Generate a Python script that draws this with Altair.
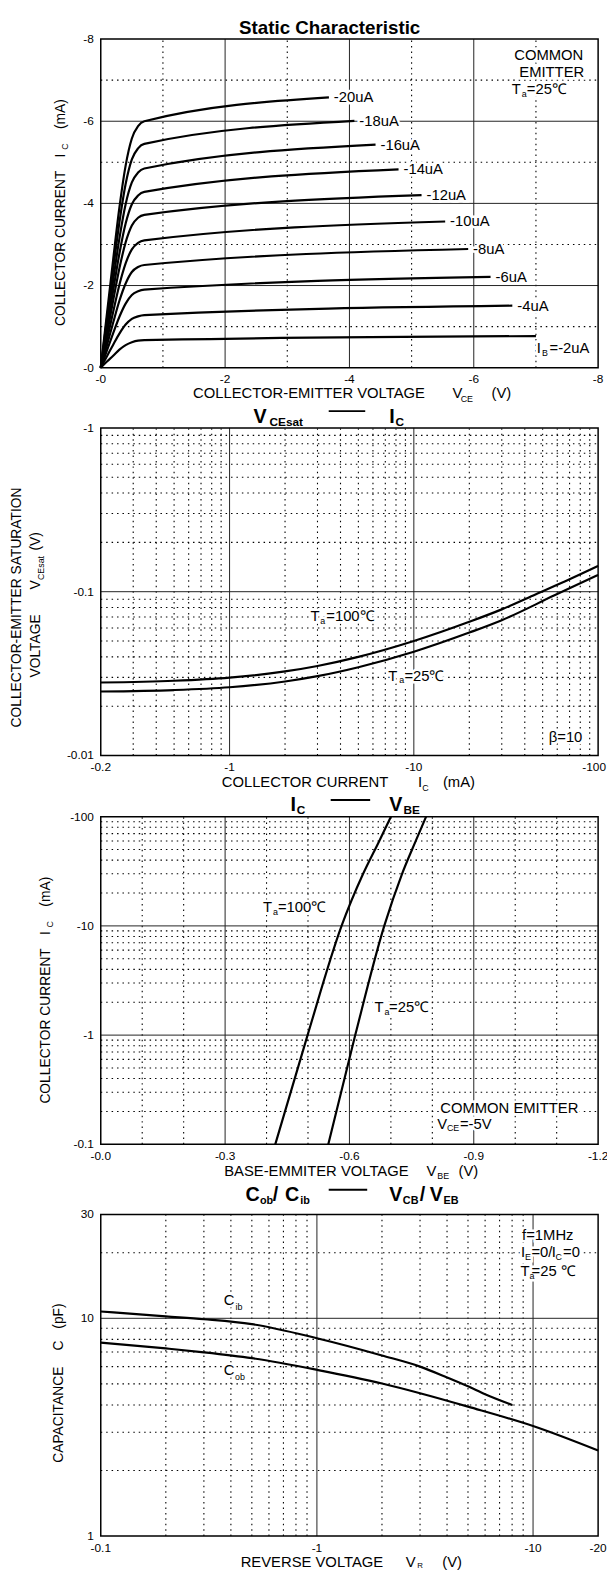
import altair as alt
import pandas as pd

FONT = "Liberation Sans"
CW, CH = 607, 1572          # whole drawing, kept inside the 615x1596 window
L, R = 94, 598              # left / right edge of every plot frame
P1, P2, P3, P4 = (21, 354), (415, 747), (809, 1141), (1212, 1538)   # (top, bottom) of each frame

# ---------------- Panel 1 : static characteristic ----------------
ib_names = ["-20uA", "-18uA", "-16uA", "-14uA", "-12uA", "-10uA", "-8uA", "-6uA", "-4uA", "-2uA"]
vce_rise = [0, -0.1, -0.2, -0.3, -0.4, -0.5, -0.6, -0.7]
ic_rise = [
    [0, -1.32, -2.64, -3.90, -4.92, -5.58, -5.88, -6.00],
    [0, -1.20, -2.40, -3.54, -4.47, -5.07, -5.34, -5.45],
    [0, -1.07, -2.13, -3.15, -3.98, -4.51, -4.75, -4.85],
    [0, -0.94, -1.88, -2.78, -3.51, -3.98, -4.19, -4.28],
    [0, -0.82, -1.64, -2.42, -3.05, -3.46, -3.65, -3.72],
    [0, -0.68, -1.36, -2.02, -2.54, -2.88, -3.04, -3.10],
    [0, -0.55, -1.10, -1.63, -2.05, -2.33, -2.45, -2.50],
    [0, -0.42, -0.84, -1.24, -1.56, -1.77, -1.86, -1.90],
    [0, -0.28, -0.56, -0.83, -1.05, -1.19, -1.25, -1.28],
    [0, -0.15, -0.29, -0.44, -0.55, -0.62, -0.66, -0.67],
]
vce_end = [-3.67, -4.08, -4.42, -4.79, -5.16, -5.54, -5.91, -6.27, -6.62, -7.00]
ic_end = [-6.58, -6.01, -5.43, -4.83, -4.20, -3.56, -2.89, -2.21, -1.51, -0.77]
p1_ticks = [0, -2, -4, -6, -8]
p1_tick_labels = ["-0", "-2", "-4", "-6", "-8"]
p1_major = [-2, -4, -6]
p1_minor = [-1, -3, -5, -7]

# ---------------- Panel 2 : VCEsat - IC ----------------
p2_ic_100 = [-0.2, -0.5, -1, -2, -3, -5, -10, -20, -30, -46, -70, -100]
p2_v_100 = [-0.0279, -0.0286, -0.0299, -0.0326, -0.0352, -0.0400, -0.0500, -0.0655, -0.0780, -0.0965, -0.119, -0.1435]
p2_ic_25 = [-0.2, -0.5, -1, -2, -3, -5, -10, -20, -30, -58, -100]
p2_v_25 = [-0.0246, -0.0251, -0.0261, -0.0283, -0.0305, -0.0346, -0.0430, -0.0563, -0.0670, -0.0950, -0.1265]
p2_xticks = [-0.2, -1, -10, -100]
p2_x_labels = ["-0.2", "-1", "-10", "-100"]
p2_yticks = [-0.01, -0.1, -1]
p2_y_labels = ["-0.01", "-0.1", "-1"]
p2_x_major = [-1, -10]
p2_x_minor = [-0.3, -0.4, -0.5, -0.6, -0.7, -0.8, -0.9, -2, -3, -4, -5, -6, -7, -8, -9,
              -20, -30, -40, -50, -60, -70, -80, -90]
p2_y_major = [-0.1]
p2_y_minor = [-0.02, -0.03, -0.04, -0.05, -0.06, -0.07, -0.08, -0.09,
              -0.2, -0.3, -0.4, -0.5, -0.6, -0.7, -0.8, -0.9]

# ---------------- Panel 3 : IC - VBE ----------------
p3_ic = [-0.1, -1, -10, -30, -60, -100]
p3_vbe_100 = [-0.421, -0.499, -0.581, -0.633, -0.672, -0.700]
p3_vbe_25 = [-0.549, -0.614, -0.684, -0.727, -0.760, -0.785]
p3_xticks = [0, -0.3, -0.6, -0.9, -1.2]
p3_x_labels = ["-0.0", "-0.3", "-0.6", "-0.9", "-1.2"]
p3_yticks = [-0.1, -1, -10, -100]
p3_y_labels = ["-0.1", "-1", "-10", "-100"]
p3_x_major = [-0.3, -0.6, -0.9]
p3_x_minor = [-0.1, -0.2, -0.4, -0.5, -0.7, -0.8, -1.0, -1.1]
p3_y_major = [-1, -10]
p3_y_minor = [-0.2, -0.3, -0.4, -0.5, -0.6, -0.7, -0.8, -0.9,
              -2, -3, -4, -5, -6, -7, -8, -9,
              -20, -30, -40, -50, -60, -70, -80, -90]

# ---------------- Panel 4 : Cob/Cib - VCB/VEB ----------------
p4_v_cib = [-0.1, -0.2, -0.3, -0.5, -1, -2, -3, -4, -5, -6, -8]
p4_cib = [10.75, 10.2, 9.9, 9.4, 8.1, 6.75, 6.0, 5.35, 4.87, 4.48, 4.0]
p4_v_cob = [-0.1, -0.2, -0.3, -0.5, -1, -2, -3, -5, -10, -20]
p4_cob = [7.73, 7.27, 6.98, 6.56, 5.8, 5.02, 4.53, 3.93, 3.2, 2.47]
p4_xticks = [-0.1, -1, -10, -20]
p4_x_labels = ["-0.1", "-1", "-10", "-20"]
p4_yticks = [1, 10, 30]
p4_y_labels = ["1", "10", "30"]
p4_x_major = [-1, -10]
p4_x_minor = [-0.2, -0.3, -0.4, -0.5, -0.6, -0.7, -0.8, -0.9, -2, -3, -4, -5, -6, -7, -8, -9]
p4_y_major = [10]
p4_y_minor = [2, 3, 4, 5, 6, 7, 8, 9, 20]


# ---------------- helpers ----------------
def X(f, s):
    return alt.X(f, scale=s, axis=None)


def Y(f, s):
    return alt.Y(f, scale=s, axis=None)


def frame_layers(xs, ys, xdom, ydom, xmaj, xmin, ymaj, ymin):
    dot = dict(color="black", strokeWidth=1.1, strokeDash=[1.5, 4])
    sol = dict(color="#222", strokeWidth=1)
    out = []
    for vals, st in ((xmin, dot), (xmaj, sol)):
        d = pd.DataFrame({"g": vals}).assign(lo=ydom[0], hi=ydom[1])
        out.append(alt.Chart(d).mark_rule(**st).encode(x=X("g:Q", xs), y=Y("lo:Q", ys), y2="hi:Q"))
    for vals, st in ((ymin, dot), (ymaj, sol)):
        d = pd.DataFrame({"g": vals}).assign(lo=xdom[0], hi=xdom[1])
        out.append(alt.Chart(d).mark_rule(**st).encode(y=Y("g:Q", ys), x=X("lo:Q", xs), x2="hi:Q"))
    return out


def box(xs, ys, xdom, ydom):
    d = pd.DataFrame({"a": [xdom[0]], "b": [xdom[1]], "c": [ydom[0]], "e": [ydom[1]]})
    return alt.Chart(d).mark_rect(fillOpacity=0, stroke="black", strokeWidth=1.5).encode(
        x=X("a:Q", xs), x2="b:Q", y=Y("c:Q", ys), y2="e:Q")


def tick_labels(xs, ys, xt, xl, yt, yl, bottom, gap=12, last_dx=0):
    dxa = pd.DataFrame({"v": xt[:-1], "t": xl[:-1]})
    dxb = pd.DataFrame({"v": xt[-1:], "t": xl[-1:]})
    dy = pd.DataFrame({"v": yt, "t": yl})
    kw = dict(font=FONT, fontSize=12, color="black", baseline="middle")
    return [
        alt.Chart(dxa).mark_text(align="center", **kw).encode(x=X("v:Q", xs), y=alt.value(bottom + gap), text="t:N"),
        alt.Chart(dxb).mark_text(align="center", dx=last_dx, **kw).encode(
            x=X("v:Q", xs), y=alt.value(bottom + gap), text="t:N"),
        alt.Chart(dy).mark_text(align="right", **kw).encode(x=alt.value(L - 7), y=Y("v:Q", ys), text="t:N"),
    ]


def curves(pairs, xs, ys):
    rows = []
    for name, xv, yv in pairs:
        for i, (a, b) in enumerate(zip(xv, yv)):
            rows.append({"curve": name, "i": i, "x": a, "y": b})
    return alt.Chart(pd.DataFrame(rows)).mark_line(color="black", strokeWidth=2.2, interpolate="monotone").encode(
        x=X("x:Q", xs), y=Y("y:Q", ys), detail="curve:N", order="i:Q")


def txt(rows, angle=0, weight="normal", halo=False):
    df = pd.DataFrame(rows, columns=["t", "px", "py", "s"])
    style = dict(color="white", stroke="white", strokeWidth=5) if halo else dict(color="black")
    return alt.Chart(df).mark_text(font=FONT, fontWeight=weight, align="center", baseline="middle",
                                   angle=angle, **style).encode(
        x=alt.X("px:Q", scale=None, axis=None), y=alt.Y("py:Q", scale=None, axis=None),
        text="t:N", size=alt.Size("s:Q", scale=None, legend=None))


def dash(x1, x2, y):
    return alt.Chart(pd.DataFrame({"a": [0]})).mark_rule(color="black", strokeWidth=2).encode(
        x=alt.value(x1), x2=alt.value(x2), y=alt.value(y))


layers = []

# ================= panel 1 =================
xd1, yd1 = [0, -8], [0, -8]
xs1 = alt.Scale(domain=xd1, range=[L, R], nice=False, zero=False)
ys1 = alt.Scale(domain=yd1, range=[P1[1], P1[0]], nice=False, zero=False)
ann1 = [("COMMON", 548, 37, 15), ("EMITTER", 551, 54, 15),
        ("T", 515, 72, 15), ("a", 523, 77, 9), ("=25℃", 546, 72, 15),
        ("I", 538, 334, 15), ("B", 544, 339, 9), ("=-2uA", 569, 334, 15)]
lab1 = pd.DataFrame({"x": vce_end[:-1], "y": ic_end[:-1], "t": ib_names[:-1]})
lab_kw = dict(font=FONT, fontSize=15, align="left", baseline="middle", dx=5)
layers += frame_layers(xs1, ys1, xd1, yd1, p1_major, p1_minor, p1_major, p1_minor)
layers += [
    txt(ann1, halo=True),
    alt.Chart(lab1).mark_text(color="white", stroke="white", strokeWidth=5, **lab_kw).encode(
        x=X("x:Q", xs1), y=Y("y:Q", ys1), text="t:N"),
    curves([(n, vce_rise + [xe], r + [ye]) for n, r, xe, ye in zip(ib_names, ic_rise, vce_end, ic_end)], xs1, ys1),
    box(xs1, ys1, xd1, yd1),
    txt(ann1),
    alt.Chart(lab1).mark_text(color="black", **lab_kw).encode(x=X("x:Q", xs1), y=Y("y:Q", ys1), text="t:N"),
    txt([("COLLECTOR-EMITTER VOLTAGE", 305, 380, 15), ("V", 455.5, 380, 15), ("CE", 465, 386, 9),
         ("(V)", 500, 380, 15)]),
    txt([("COLLECTOR CURRENT", 54, 233, 14), ("I", 54, 139, 14), ("C", 58, 130, 9), ("(mA)", 54, 97, 14)],
        angle=270),
    txt([("Static Characteristic", 326, 10, 19)], weight="bold"),
]
layers += tick_labels(xs1, ys1, p1_ticks, p1_tick_labels, p1_ticks, p1_tick_labels, P1[1])

# ================= panel 2 =================
xd2, yd2 = [-0.2, -100], [-0.01, -1]
xs2 = alt.Scale(type="log", domain=xd2, range=[L, R], nice=False)
ys2 = alt.Scale(type="log", domain=yd2, range=[P2[1], P2[0]], nice=False)
ann2 = [("T", 311, 606, 15), ("a", 319, 611, 9), ("=100℃", 347, 606, 15),
        ("T", 390, 666, 15), ("a", 399, 671, 9), ("=25℃", 422, 666, 15),
        ("β=10", 565, 728, 15)]
layers += frame_layers(xs2, ys2, xd2, yd2, p2_x_major, p2_x_minor, p2_y_major, p2_y_minor)
layers += [
    txt(ann2, halo=True),
    curves([("100", p2_ic_100, p2_v_100), ("25", p2_ic_25, p2_v_25)], xs2, ys2),
    box(xs2, ys2, xd2, yd2),
    txt(ann2),
    txt([("COLLECTOR CURRENT", 301, 774, 15), ("I", 417.5, 774, 15), ("C", 423, 780, 9), ("(mA)", 457, 774, 15)]),
    txt([("COLLECTOR-EMITTER SATURATION", 9, 597, 14),
         ("VOLTAGE", 28, 636, 14), ("V", 28, 574, 14), ("CEsat", 33, 557, 9), ("(V)", 28, 530, 14)], angle=270),
    txt([("V", 255.5, 404, 20), ("CEsat", 282, 409, 12), ("I", 389, 404, 20), ("C", 397, 409, 12)], weight="bold"),
    dash(325, 362, 398),
]
layers += tick_labels(xs2, ys2, p2_xticks, p2_x_labels, p2_yticks, p2_y_labels, P2[1], last_dx=-4)

# ================= panel 3 =================
xd3, yd3 = [0, -1.2], [-0.1, -100]
xs3 = alt.Scale(domain=xd3, range=[L, R], nice=False, zero=False)
ys3 = alt.Scale(type="log", domain=yd3, range=[P3[1], P3[0]], nice=False)
ann3 = [("T", 263, 901, 15), ("a", 271, 906, 9), ("=100℃", 298, 901, 15),
        ("T", 376, 1002, 15), ("a", 384, 1007, 9), ("=25℃", 406.5, 1002, 15),
        ("COMMON EMITTER", 508, 1104, 15),
        ("V", 440, 1120, 15), ("CE", 451, 1125, 9), ("=-5V", 474, 1120, 15)]
layers += frame_layers(xs3, ys3, xd3, yd3, p3_x_major, p3_x_minor, p3_y_major, p3_y_minor)
layers += [
    txt(ann3, halo=True),
    curves([("100", p3_vbe_100, p3_ic), ("25", p3_vbe_25, p3_ic)], xs3, ys3),
    box(xs3, ys3, xd3, yd3),
    txt(ann3),
    txt([("BASE-EMMITER VOLTAGE", 312.5, 1168, 15), ("V", 429, 1168, 15), ("BE", 441, 1173, 9),
         ("(V)", 466.5, 1168, 15)]),
    txt([("COLLECTOR CURRENT", 39, 1021, 14), ("I", 39, 927, 14), ("C", 43, 918, 9), ("(mA)", 39, 885, 14)],
        angle=270),
    txt([("I", 289, 797, 20), ("C", 297, 802, 12), ("V", 393, 797, 20), ("BE", 409, 802, 12)], weight="bold"),
    dash(327, 367, 792),
]
layers += tick_labels(xs3, ys3, p3_xticks, p3_x_labels, p3_yticks, p3_y_labels, P3[1])

# ================= panel 4 =================
xd4, yd4 = [-0.1, -20], [1, 30]
xs4 = alt.Scale(type="log", domain=xd4, range=[L, R], nice=False)
ys4 = alt.Scale(type="log", domain=yd4, range=[P4[1], P4[0]], nice=False)
ann4 = [("f=1MHz", 547, 1233, 15),
        ("I", 522, 1250, 15), ("E", 527, 1255, 9), ("=0/", 541, 1250, 15), ("I", 553, 1250, 15),
        ("C", 558, 1255, 9), ("=0", 571, 1250, 15),
        ("T", 524, 1269, 15), ("a", 531, 1274, 9), ("=25 ℃", 553, 1269, 15),
        ("C", 224, 1299, 15), ("ib", 234, 1306, 9),
        ("C", 224, 1370, 15), ("ob", 235, 1377, 9)]
layers += frame_layers(xs4, ys4, xd4, yd4, p4_x_major, p4_x_minor, p4_y_major, p4_y_minor)
layers += [
    txt(ann4, halo=True),
    curves([("cib", p4_v_cib, p4_cib), ("cob", p4_v_cob, p4_cob)], xs4, ys4),
    box(xs4, ys4, xd4, yd4),
    txt(ann4),
    txt([("REVERSE VOLTAGE", 308, 1564, 15), ("V", 408, 1564, 15), ("R", 417.5, 1568, 8), ("(V)", 450, 1564, 15)]),
    txt([("CAPACITANCE", 52, 1415, 14), ("C", 52, 1345, 14), ("(pF)", 52, 1315, 14)], angle=270),
    txt([("C", 248, 1192, 20), ("ob", 262, 1198, 11), ("/", 271, 1192, 20), ("C", 288, 1192, 20),
         ("ib", 301, 1198, 11), ("V", 393, 1192, 20), ("CB", 408, 1198, 11), ("/", 420, 1192, 20),
         ("V", 434, 1192, 20), ("EB", 449, 1198, 11)], weight="bold"),
    dash(325, 364, 1187),
]
layers += tick_labels(xs4, ys4, p4_xticks, p4_x_labels, p4_yticks, p4_y_labels, P4[1], gap=12)

chart = alt.layer(*layers).resolve_scale(x="independent", y="independent").properties(
    width=CW, height=CH, autosize=alt.AutoSizeParams(type="none"), padding=0
).configure_view(stroke="transparent")

chart.save("out.html", embed_options={"renderer": "svg", "actions": False})
